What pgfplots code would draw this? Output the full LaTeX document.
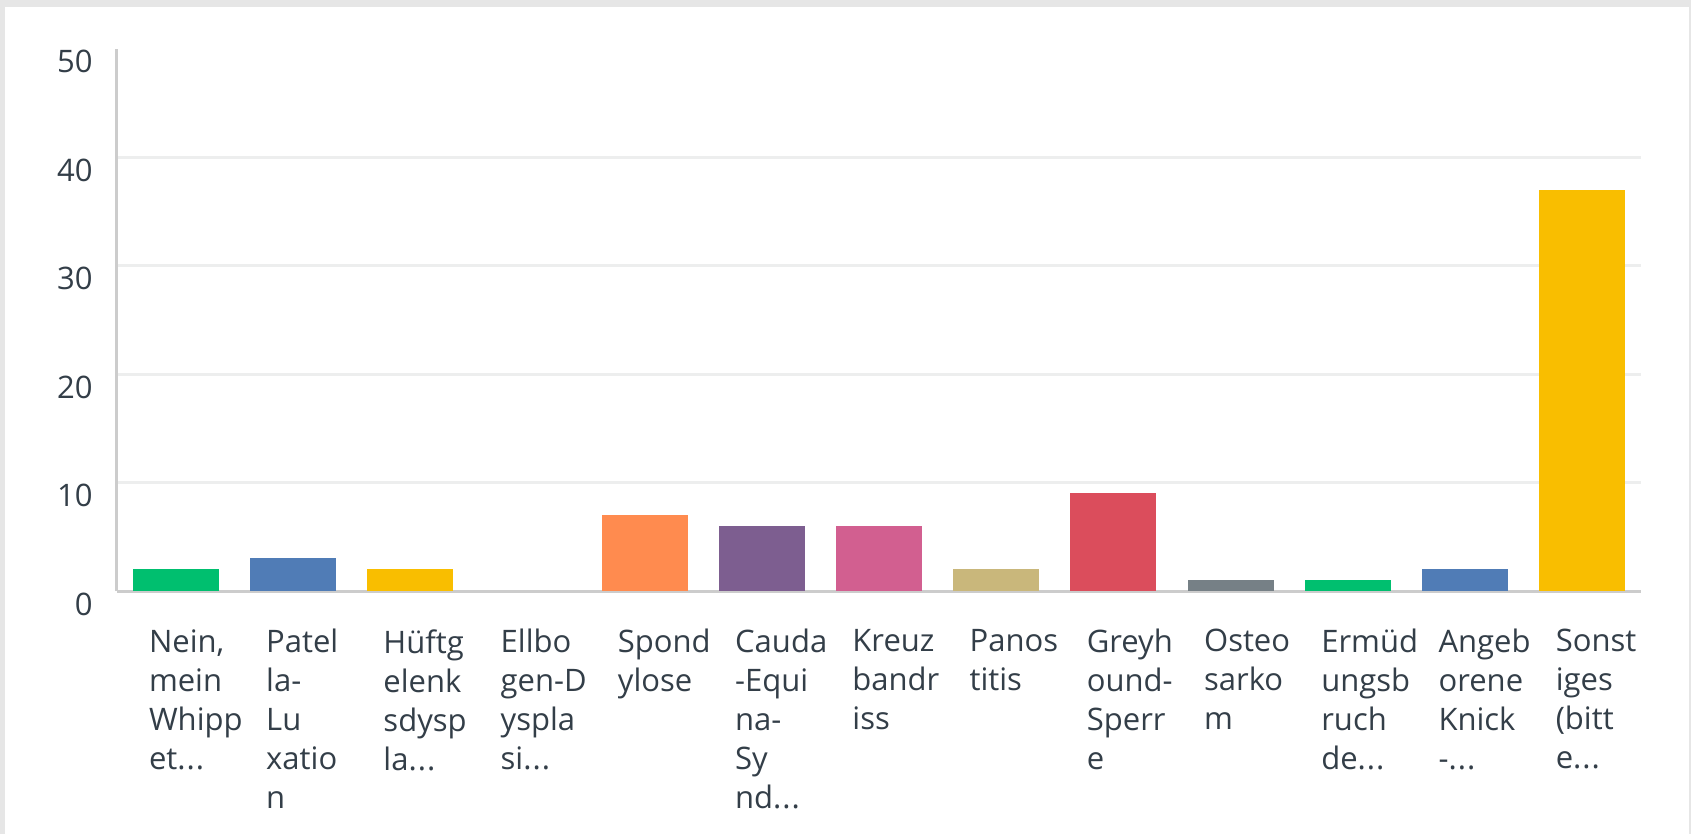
\documentclass[border=0pt]{standalone}
\usepackage{pgfplots}
\pgfplotsset{compat=1.18}
\usepackage{fontspec}
\setmainfont{Open Sans}
\definecolor{cFrame}{HTML}{E6E6E6}
\definecolor{cAxis}{HTML}{CCCCCC}
\definecolor{cGrid}{HTML}{EDEEEE}
\definecolor{cText}{HTML}{333E48}
\definecolor{cGreen}{HTML}{00BF6F}
\definecolor{cBlue}{HTML}{507CB6}
\definecolor{cYellow}{HTML}{F9BE00}
\definecolor{cOrange}{HTML}{FF8B4F}
\definecolor{cPurple}{HTML}{7D5E90}
\definecolor{cPink}{HTML}{D25F90}
\definecolor{cTan}{HTML}{C9B77B}
\definecolor{cRed}{HTML}{DB4D5C}
\definecolor{cSlate}{HTML}{768086}
\newcommand{\dd}{.\kern0.5pt.\kern0.5pt.}

\begin{document}
\begin{tikzpicture}
\fill[cFrame] (0,0) rectangle (845.5bp,417bp);
\fill[white] (2.5bp,0) rectangle (844.5bp,413.5bp);
\path[use as bounding box] (0,0) rectangle (845.5bp,417bp);
\begin{axis}[at={(58.5bp,121.5bp)}, anchor=south west,
  scale only axis, width=762bp, height=271.25bp,
  xmin=-0.5, xmax=12.5, ymin=0, ymax=50,
  ybar, bar width=43bp,
  axis lines=left, axis line style={draw=cAxis, line width=1.5bp, -},
  ytick={0,10,20,30,40}, extra y ticks={50}, extra y tick style={grid=none},
  ymajorgrids, grid style={draw=cGrid, line width=1.5bp},
  major tick length=0pt,
  /pgf/number format/assume math mode=true,
  tick label style={font=\fontsize{15.5bp}{19.5bp}\selectfont, text=cText},
  yticklabel style={inner sep=0pt, xshift=-12bp, yshift=-6.5bp},
  xtick={0,1,2,3,4,5,6,7,8,9,10,11,12},
  xticklabel style={align=left, anchor=north west, inner sep=0pt, xshift=-13.5bp, yshift=-19bp},
  xticklabels={{Nein,\\mein\\Whipp\\et\dd},{Patel\\la-\\Lu\\xatio\\n},{Hüftg\\elenk\\sdysp\\la\dd},
    {Ellbo\\gen-D\\yspla\\si\dd},{Spond\\ylose},{Cauda\\-Equi\\na-\\Sy\\nd\dd},
    {Kreuz\\bandr\\iss},{Panos\\titis},{Greyh\\ound-\\Sperr\\e},{Osteo\\sarko\\m},
    {Ermüd\\ungsb\\ruch\\de\dd},{Angeb\\orene\\Knick\\-\dd},{Sonst\\iges\\(bitt\\e\dd}},
  b/.style={fill=#1, draw=none, bar shift=0pt}]
\addplot[b=cGreen] coordinates {(0,2)};
\addplot[b=cBlue] coordinates {(1,3)};
\addplot[b=cYellow] coordinates {(2,2)};
\addplot[b=cOrange] coordinates {(3,0)};
\addplot[b=cOrange] coordinates {(4,7)};
\addplot[b=cPurple] coordinates {(5,6)};
\addplot[b=cPink] coordinates {(6,6)};
\addplot[b=cTan] coordinates {(7,2)};
\addplot[b=cRed] coordinates {(8,9)};
\addplot[b=cSlate] coordinates {(9,1)};
\addplot[b=cGreen] coordinates {(10,1)};
\addplot[b=cBlue] coordinates {(11,2)};
\addplot[b=cYellow] coordinates {(12,37)};
\end{axis}
\end{tikzpicture}
\end{document}
